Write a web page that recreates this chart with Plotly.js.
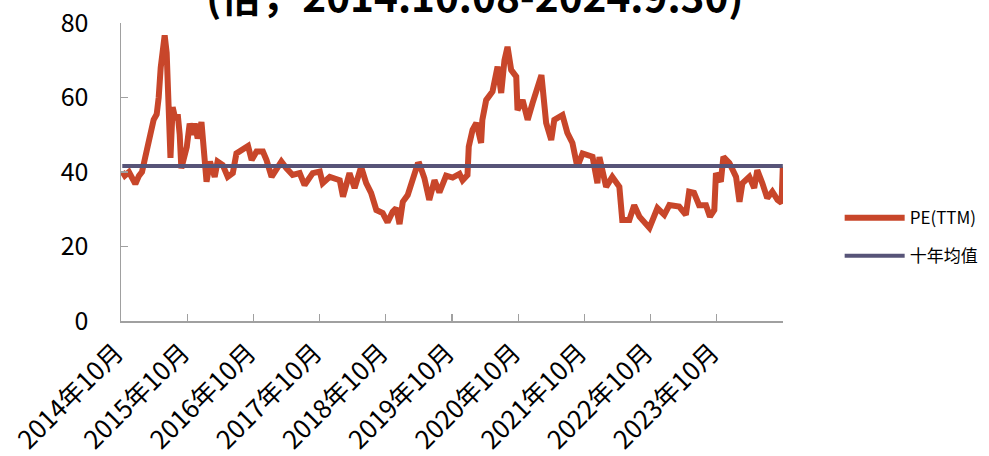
<!DOCTYPE html>
<html>
<head>
<meta charset="utf-8">
<script src="https://cdn.plot.ly/plotly-3.0.1.min.js"></script>
<style>html,body{margin:0;padding:0;background:#fff;}#chart{width:989px;height:456px;}</style>
</head>
<body>
<div id="chart"></div>
<script>
var dates = [
"2014-10-08","2014-10-22","2014-11-14","2014-11-30","2014-12-19","2015-01-08","2015-01-25","2015-02-11","2015-02-27","2015-03-14",
"2015-03-30","2015-04-16","2015-04-27","2015-05-08","2015-05-19","2015-05-30","2015-06-10","2015-06-21","2015-07-01","2015-07-13",
"2015-07-29","2015-08-10","2015-08-21","2015-08-30","2015-09-12","2015-09-29","2015-10-15","2015-11-01","2015-11-12","2015-11-28",
"2015-12-19","2016-01-07","2016-01-16","2016-02-04","2016-03-01","2016-03-17","2016-04-14","2016-05-12","2016-06-09","2016-06-29",
"2016-08-03","2016-09-01","2016-09-21","2016-10-18","2016-11-22","2016-12-12","2017-01-09","2017-02-06","2017-03-04","2017-04-01",
"2017-05-05","2017-06-13","2017-07-10","2017-08-24","2017-10-02","2017-10-18","2017-11-26","2018-01-20","2018-02-07","2018-03-15",
"2018-04-12","2018-05-18","2018-06-15","2018-07-12","2018-08-10","2018-09-14","2018-10-11","2018-11-08","2018-11-28","2018-12-16",
"2019-01-03","2019-01-30","2019-02-27","2019-03-25","2019-04-05","2019-05-02","2019-05-29","2019-06-27","2019-07-24","2019-08-30",
"2019-10-05","2019-11-12","2019-11-29","2019-12-26","2020-01-02","2020-01-23","2020-02-13","2020-03-10","2020-03-17","2020-04-07",
"2020-05-12","2020-06-09","2020-06-29","2020-07-17","2020-08-03","2020-08-23","2020-09-20","2020-09-27","2020-10-25","2020-11-22",
"2020-12-19","2021-01-16","2021-02-06","2021-03-04","2021-04-01","2021-04-18","2021-06-02","2021-06-29","2021-07-27","2021-08-23",
"2021-09-21","2021-11-15","2021-12-12","2021-12-23","2022-01-29","2022-03-04","2022-04-12","2022-04-28","2022-06-06","2022-07-03",
"2022-08-01","2022-09-25","2022-11-08","2022-12-16","2023-01-13","2023-03-08","2023-04-14","2023-05-02","2023-05-29","2023-06-26",
"2023-08-03","2023-08-25","2023-09-18","2023-09-27","2023-10-24","2023-11-07","2023-12-10","2024-01-16","2024-02-04","2024-02-20",
"2024-03-29","2024-04-25","2024-05-12","2024-06-09","2024-07-06","2024-08-03","2024-09-01","2024-09-23","2024-09-30"
];
var peTTM = [
40.1,39.0,40.0,38.5,36.8,39.0,40.0,43.8,47.0,50.0,
54.0,55.5,60.0,68.0,73.0,76.7,72.0,58.0,43.8,57.4,
54.0,55.5,50.0,41.0,44.0,46.7,53.0,50.0,53.0,49.0,
53.4,43.2,37.4,42.8,38.7,42.8,41.9,38.7,39.7,45.0,
45.9,47.0,43.2,45.5,45.5,43.2,38.7,40.5,42.8,41.0,
39.2,39.7,36.5,39.7,40.1,37.0,38.7,37.8,33.4,39.7,
35.7,41.4,37.0,34.4,29.8,29.0,26.5,29.3,30.3,26.0,
32.0,33.8,38.7,42.0,42.1,38.4,32.5,37.8,34.5,39.0,
38.5,39.5,37.8,39.2,46.8,51.3,53.2,47.8,54.0,59.3,
61.6,68.3,61.2,70.0,73.6,67.4,65.6,56.6,59.3,54.0,
58.5,62.9,66.0,53.2,48.6,54.0,55.3,50.5,47.8,41.4,
45.0,44.1,37.0,44.0,36.0,38.7,36.0,27.1,27.1,31.1,
28.0,25.0,30.3,28.5,31.1,30.7,28.5,34.7,34.4,31.1,
31.1,28.0,29.8,39.7,37.4,44.1,42.4,38.7,32.0,37.0,
38.7,35.7,40.5,37.0,33.0,34.7,32.5,31.7,41.4
];
var tenYearMean = 41.6;
var meanDates = ["2014-10-08","2024-09-30"];
var meanValues = [tenYearMean, tenYearMean];
var tickDates = ["2014-10-01","2015-10-01","2016-10-01","2017-10-01","2018-10-01","2019-10-01","2020-10-01","2021-10-01","2022-10-01","2023-10-01"];
var tickLabels = ["2014年10月","2015年10月","2016年10月","2017年10月","2018年10月","2019年10月","2020年10月","2021年10月","2022年10月","2023年10月"];
var titleText = "(倍，2014.10.08-2024.9.30)";

var FONT = "Noto Sans CJK SC, Noto Sans, sans-serif";
var traces = [
  {x: dates, y: peTTM, type: "scatter", mode: "lines", name: "PE(TTM)", legendgroup: "a",
   line: {color: "#C8462A", width: 6}},
  {x: meanDates, y: meanValues, type: "scatter", mode: "lines", name: "十年均值", legendgroup: "b",
   line: {color: "#575478", width: 4}}
];
var layout = {
  width: 989, height: 456,
  margin: {l: 121, r: 206, t: 23, b: 135, autoexpand: false},
  paper_bgcolor: "#fff", plot_bgcolor: "#fff",
  font: {family: FONT, color: "#000"},
  annotations: [{text: titleText, xref: "paper", yref: "paper", x: 0.535, y: 1.097,
                 xanchor: "center", yanchor: "middle", showarrow: false,
                 font: {family: FONT, size: 40.5, weight: "bold", color: "#000"}}],
  showlegend: true,
  legend: {xref: "container", x: 0.849, xanchor: "left", yref: "container", y: 0.48, yanchor: "middle",
           font: {size: 17, family: FONT}, traceorder: "grouped",
           itemwidth: 60, tracegroupgap: 13, bgcolor: "rgba(0,0,0,0)"},
  xaxis: {type: "date", range: ["2014-10-01", "2024-10-01"], tickvals: tickDates, ticktext: tickLabels,
          tickangle: -45, ticks: "inside", ticklen: 7, tickcolor: "#A0A0A0", tickwidth: 1.2,
          showline: true, linecolor: "#A0A0A0", linewidth: 1.5, showgrid: false, zeroline: false,
          automargin: false, ticklabelshift: -5, ticklabelstandoff: 5,
          tickfont: {size: 25.5, family: FONT, color: "#000"}},
  yaxis: {range: [0, 80], tickvals: [0, 20, 40, 60, 80], ticks: "inside", ticklen: 7,
          tickcolor: "#A0A0A0", tickwidth: 1.2, showline: true, linecolor: "#A0A0A0", linewidth: 1.5,
          showgrid: false, zeroline: false, ticklabelstandoff: 26, automargin: false,
          tickfont: {size: 25, family: FONT, color: "#000"}}
};
Plotly.newPlot("chart", traces, layout, {displayModeBar: false, staticPlot: true});
</script>
</body>
</html>
